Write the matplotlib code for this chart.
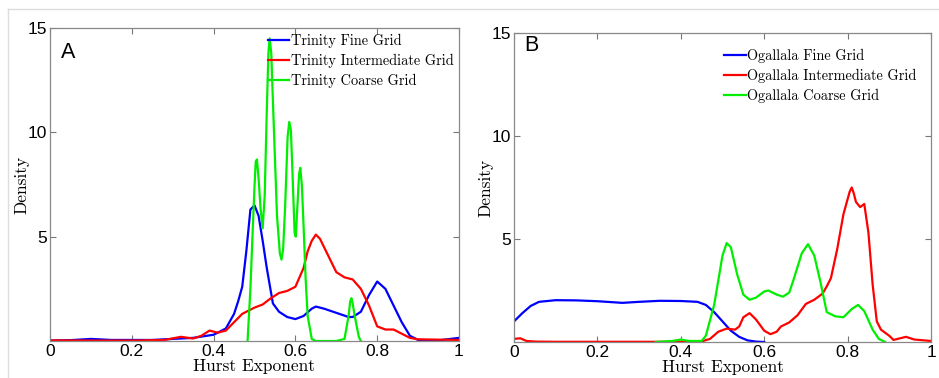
import matplotlib.pyplot as plt
from matplotlib.lines import Line2D

# Hurst exponent densities
tri_fine_x = [0.0, 0.05, 0.1, 0.15, 0.2, 0.25, 0.3, 0.35, 0.4, 0.43, 0.45, 0.46, 0.47, 0.48, 0.49, 0.5,
              0.51, 0.52, 0.53, 0.545, 0.56, 0.58, 0.6, 0.62, 0.64, 0.65, 0.67, 0.7, 0.73, 0.74, 0.76,
              0.78, 0.8, 0.82, 0.84, 0.86, 0.88, 0.9, 0.95, 1.0]
tri_fine_y = [0.02, 0.04, 0.1, 0.05, 0.05, 0.05, 0.1, 0.15, 0.3, 0.6, 1.3, 1.9, 2.6, 4.3, 6.3, 6.5,
              6.0, 4.8, 3.5, 1.8, 1.4, 1.15, 1.05, 1.2, 1.55, 1.65, 1.55, 1.35, 1.15, 1.15, 1.4,
              2.2, 2.85, 2.5, 1.7, 0.9, 0.25, 0.05, 0.03, 0.15]

tri_inter_x = [0.0, 0.1, 0.2, 0.28, 0.32, 0.35, 0.37, 0.39, 0.41, 0.43, 0.45, 0.47, 0.5, 0.52, 0.54,
               0.56, 0.58, 0.6, 0.62, 0.63, 0.64, 0.65, 0.66, 0.68, 0.7, 0.72, 0.74, 0.76, 0.78,
               0.8, 0.82, 0.84, 0.86, 0.88, 0.9, 1.0]
tri_inter_y = [0.03, 0.02, 0.02, 0.05, 0.2, 0.12, 0.25, 0.5, 0.4, 0.5, 0.9, 1.3, 1.6, 1.75, 2.05,
               2.3, 2.4, 2.6, 3.5, 4.3, 4.8, 5.1, 4.9, 4.1, 3.3, 3.05, 2.95, 2.5, 1.7,
               0.7, 0.55, 0.55, 0.35, 0.15, 0.08, 0.05]

tri_coarse_x = [0.483, 0.49, 0.495, 0.5, 0.503, 0.506, 0.51, 0.515, 0.52, 0.525, 0.53, 0.534, 0.537,
                0.541, 0.545, 0.555, 0.562, 0.566, 0.57, 0.575, 0.581, 0.585, 0.589, 0.593, 0.598,
                0.601, 0.605, 0.609, 0.612, 0.616, 0.62, 0.625, 0.63, 0.64, 0.65, 0.7,
                0.72, 0.73, 0.734, 0.737, 0.74, 0.745, 0.755, 0.76]
tri_coarse_y = [0.0, 2.5, 5.0, 7.4, 8.6, 8.7, 7.8, 6.3, 5.4, 7.0, 11.0, 13.8, 14.5,
                13.8, 11.5, 6.0, 4.2, 3.9, 4.4, 6.5, 9.8, 10.5, 10.1, 8.0, 5.2,
                5.0, 6.5, 8.0, 8.3, 7.4, 5.5, 3.0, 1.2, 0.1, 0.0, 0.0,
                0.1, 1.2, 1.9, 2.05, 1.8, 1.2, 0.2, 0.0]

oga_fine_x = [0.0, 0.02, 0.04, 0.06, 0.1, 0.15, 0.2, 0.26, 0.3, 0.35, 0.4, 0.44, 0.46, 0.48, 0.5,
              0.52, 0.54, 0.56, 0.58, 0.6]
oga_fine_y = [1.0, 1.4, 1.75, 1.95, 2.03, 2.02, 1.98, 1.9, 1.95, 2.0, 1.99, 1.95, 1.8, 1.45, 1.0,
              0.55, 0.25, 0.08, 0.02, 0.0]

oga_inter_x = [0.0, 0.015, 0.03, 0.05, 0.1, 0.2, 0.33, 0.4, 0.45, 0.47, 0.49, 0.51, 0.53, 0.54, 0.55,
               0.565, 0.58, 0.6, 0.615, 0.63, 0.64, 0.66, 0.68, 0.7, 0.72, 0.74, 0.75, 0.76, 0.775,
               0.79, 0.805, 0.81, 0.815, 0.82, 0.83, 0.84, 0.85, 0.86, 0.87, 0.88, 0.9, 0.91, 0.93,
               0.94, 0.96, 1.0]
oga_inter_y = [0.15, 0.18, 0.05, 0.02, 0.01, 0.01, 0.01, 0.01, 0.03, 0.15, 0.5, 0.65, 0.6, 0.75, 1.2,
               1.4, 1.1, 0.55, 0.38, 0.5, 0.75, 0.95, 1.3, 1.85, 2.05, 2.35, 2.7, 3.1, 4.5,
               6.2, 7.3, 7.5, 7.2, 6.8, 6.55, 6.7, 5.3, 2.8, 1.0, 0.6, 0.3, 0.1, 0.2,
               0.25, 0.12, 0.05]

oga_coarse_x = [0.34, 0.38, 0.4, 0.42, 0.45, 0.46, 0.48, 0.49, 0.5, 0.51, 0.52, 0.535, 0.55, 0.565,
                0.58, 0.6, 0.61, 0.63, 0.645, 0.66, 0.67, 0.69, 0.705, 0.72, 0.735, 0.75, 0.77,
                0.79, 0.81, 0.825, 0.84, 0.86, 0.875, 0.89]
oga_coarse_y = [0.0, 0.05, 0.12, 0.05, 0.05, 0.3, 1.8, 3.0, 4.2, 4.8, 4.6, 3.3, 2.3, 2.05,
                2.15, 2.45, 2.5, 2.3, 2.2, 2.4, 3.0, 4.3, 4.75, 4.2, 2.9, 1.45, 1.25,
                1.2, 1.6, 1.8, 1.5, 0.6, 0.15, 0.0]

panels = [
    ('A', [(tri_fine_x, tri_fine_y, 'Trinity Fine Grid', 'blue'),
           (tri_inter_x, tri_inter_y, 'Trinity Intermediate Grid', 'red'),
           (tri_coarse_x, tri_coarse_y, 'Trinity Coarse Grid', '#00ee00')]),
    ('B', [(oga_fine_x, oga_fine_y, 'Ogallala Fine Grid', 'blue'),
           (oga_inter_x, oga_inter_y, 'Ogallala Intermediate Grid', 'red'),
           (oga_coarse_x, oga_coarse_y, 'Ogallala Coarse Grid', '#00ee00')]),
]

W, H = 939, 378
fig = plt.figure(figsize=(W / 100, H / 100), dpi=100)

# light frame around the figure (top and left)
fig.add_artist(Line2D([8 / W, 1], [1 - 9 / H, 1 - 9 / H], color='#dddddd', lw=1))
fig.add_artist(Line2D([8 / W, 8 / W], [0, 1 - 9 / H], color='#dddddd', lw=1))

boxes = [(50, 28, 459, 341), (514, 33, 931, 342)]
legend_anchor = [(462, 25), (925, 40)]
letter_pos = [(61, 42), (524, 35)]

for (letter, series), (l, t, r, b), (lx, ly), (px, py) in zip(panels, boxes, legend_anchor, letter_pos):
    ax = fig.add_axes([l / W, 1 - b / H, (r - l) / W, (b - t) / H])
    for x, y, name, col in series:
        ax.plot(x, y, color=col, lw=1.6, label=name)
    ax.set_xlim(0, 1)
    ax.set_ylim(0, 15)
    ax.set_xticks([0, 0.2, 0.4, 0.6, 0.8, 1])
    ax.set_xticklabels(['0', '0.2', '0.4', '0.6', '0.8', '1'])
    ax.set_yticks([5, 10, 15])
    ax.tick_params(direction='in', top=True, right=True, length=4, width=0.8,
                   color='#777777', labelsize=12.5, pad=2)
    for lab in ax.get_xticklabels() + ax.get_yticklabels():
        lab.set_fontfamily('Liberation Sans')
    for s in ax.spines.values():
        s.set_color('#888888')
        s.set_linewidth(0.9)
    ax.set_xlabel('Hurst Exponent', fontfamily='cmr10', fontsize=12.5, labelpad=0)
    ax.set_ylabel('Density', fontfamily='cmr10', fontsize=12.5, labelpad=-1)
    fig.text(px / W, 1 - py / H, letter, ha='left', va='top',
             fontfamily='Liberation Sans', fontsize=15.5)
    ax.legend(loc='upper right', frameon=False,
              prop={'family': 'cmr10', 'size': 10.3},
              handlelength=1.5, handletextpad=0.1, labelspacing=0.42,
              borderaxespad=0.2,
              bbox_to_anchor=(lx / W, 1 - ly / H), bbox_transform=fig.transFigure)

fig.savefig('out.png', dpi=100)
